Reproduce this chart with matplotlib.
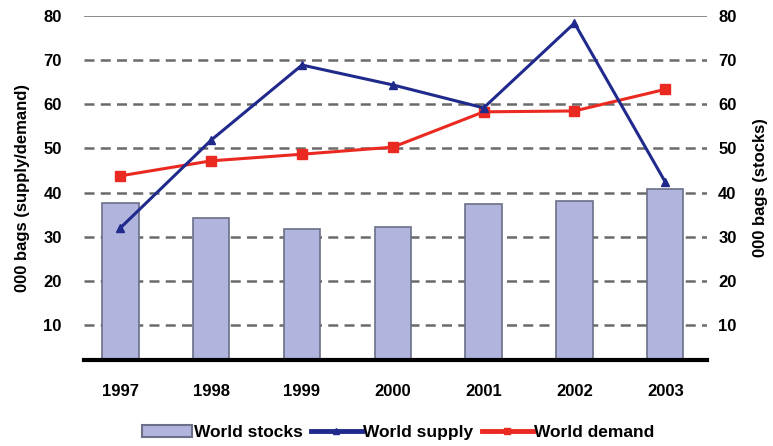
import matplotlib.pyplot as plt
from matplotlib.patches import Patch
from matplotlib.lines import Line2D
import numpy as np

plt.rcParams['font.family'] = ['Liberation Sans', 'DejaVu Sans']

years = ['1997', '1998', '1999', '2000', '2001', '2002', '2003']
stocks = [37.6, 34.2, 31.7, 32.2, 37.4, 38.1, 40.8]
supply = [32.0, 51.9, 68.9, 64.4, 59.2, 78.4, 42.4]
demand = [43.8, 47.2, 48.7, 50.3, 58.3, 58.5, 63.4]
yticks = [10, 20, 30, 40, 50, 60, 70, 80]

bar_col = '#b1b5dd'
bar_edge = '#6b6f88'
supply_col = '#1f2a8c'
demand_col = '#ea2a20'

fig = plt.figure(figsize=(7.73, 4.46), dpi=100)
ax = fig.add_axes([0.1087, 0.193, 0.806, 0.771])
x = np.arange(len(years))

# gridlines
for v in yticks[:-1]:
    ax.axhline(v, color='#6a6a6a', lw=1.8, ls=(0, (4, 2.5)), zorder=1)
ax.axhline(80, color='#8a8a8a', lw=1.4, zorder=1)

ax.bar(x, stocks, width=0.4, color=bar_col, edgecolor=bar_edge, lw=1.2, zorder=2)
ax.plot(x, supply, color=supply_col, lw=2.2, marker='^', ms=6, zorder=4)
ax.plot(x, demand, color=demand_col, lw=2.2, marker='s', ms=7, zorder=3)

ax.set_xlim(-0.4, 6.46)
ax.set_ylim(2.1, 80)
ax.set_xticks(x)
ax.set_xticklabels(years, fontsize=12, fontweight='bold')
ax.set_yticks(yticks)
ax.set_yticklabels([str(v) for v in yticks], fontsize=12, fontweight='bold')
ax.tick_params(axis='x', length=0, pad=17)
ax.tick_params(axis='y', length=0, pad=16)
for s in ['top', 'left', 'right']:
    ax.spines[s].set_visible(False)
ax.spines['bottom'].set_linewidth(3)
ax.spines['bottom'].set_zorder(5)
ax.set_ylabel('000 bags (supply/demand)', fontsize=12, fontweight='bold', labelpad=10)

ax2 = ax.twinx()
ax2.set_ylim(2.1, 80)
ax2.set_yticks(yticks)
ax2.set_yticklabels([str(v) for v in yticks], fontsize=12, fontweight='bold')
ax2.tick_params(axis='y', length=0, pad=8)
for s in ['top', 'left', 'right', 'bottom']:
    ax2.spines[s].set_visible(False)
ax2.set_ylabel('000 bags (stocks)', fontsize=12, fontweight='bold', labelpad=12)

handles = [
    Patch(facecolor=bar_col, edgecolor=bar_edge, lw=1.5),
    Line2D([0], [0], color=supply_col, lw=3.5, marker='^', ms=5),
    Line2D([0], [0], color=demand_col, lw=3.5, marker='s', ms=5),
]
fig.legend(handles, ['World stocks', 'World supply', 'World demand'],
           loc='center', bbox_to_anchor=(0.515, 0.031), ncol=3, frameon=False,
           prop={'size': 12.5, 'weight': 'bold'}, handlelength=2.9,
           handletextpad=0.1, columnspacing=0.5)

fig.savefig('out.png', dpi=100)
